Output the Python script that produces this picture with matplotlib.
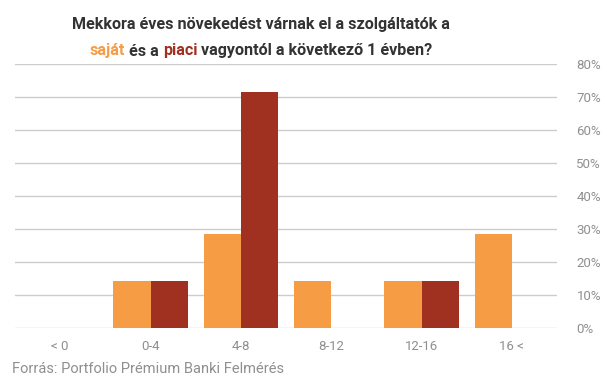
import numpy as np
import matplotlib
matplotlib.use("Agg")
import matplotlib.pyplot as plt

plt.rcParams['font.family'] = ['Roboto', 'DejaVu Sans']

categories = ["< 0", "0-4", "4-8", "8-12", "12-16", "16 <"]
sajat = [0, 14.3, 28.6, 14.3, 14.3, 28.6]
piaci = [0, 14.3, 71.4, 0, 14.3, 0]
yticks = [0, 10, 20, 30, 40, 50, 60, 70, 80]

orange = "#F59C45"
red = "#A03120"
dark = "#333333"
grey = "#8f8f8f"

fig = plt.figure(figsize=(6.07, 3.80), dpi=100)
ax = fig.add_axes([15/607, 52/380, 542/607, 264/380])

x = np.arange(len(categories))
w = 0.41
ax.bar(x - w/2, sajat, w, color=orange, zorder=2)
ax.bar(x + w/2, piaci, w, color=red, zorder=2)

ax.set_xlim(-0.5, len(categories) - 0.5)
ax.set_ylim(0, 80)
ax.set_yticks(yticks)
ax.set_yticklabels([f"{v}%" for v in yticks])
ax.yaxis.tick_right()
ax.grid(axis='y', color="#cccccc", linewidth=1, zorder=0)
ax.set_xticks(x)
ax.set_xticklabels(categories)
ax.tick_params(axis='both', length=0, colors=grey, labelsize=9.5)
ax.tick_params(axis='y', pad=14)
ax.tick_params(axis='x', pad=9)
for s in ax.spines.values():
    s.set_visible(False)

fs = 11.6
cx = 261 / 607
fig.text(cx, 1 - 25/380, "Mekkora éves növekedést várnak el a szolgáltatók a",
         ha='center', va='center', fontsize=fs, fontweight='bold', color=dark)

# second title line with coloured words
parts = [("saját", orange), (" és a ", dark), ("piaci", red),
         (" vagyontól a következő 1 évben?", dark)]
fig.canvas.draw()
r = fig.canvas.get_renderer()
texts = []
for s, c in parts:
    t = fig.text(0, 1 - 51/380, s, ha='left', va='center', fontsize=fs,
                 fontweight='bold', color=c)
    texts.append(t)
widths = [t.get_window_extent(r).width for t in texts]
total = sum(widths)
cur = cx * fig.bbox.width - total / 2
for t, wd in zip(texts, widths):
    t.set_x(cur / fig.bbox.width)
    cur += wd

fig.text(12/607, 1 - 369/380, "Forrás: Portfolio Prémium Banki Felmérés",
         ha='left', va='center', fontsize=10.5, color=grey)

fig.savefig("out.png", dpi=100)
